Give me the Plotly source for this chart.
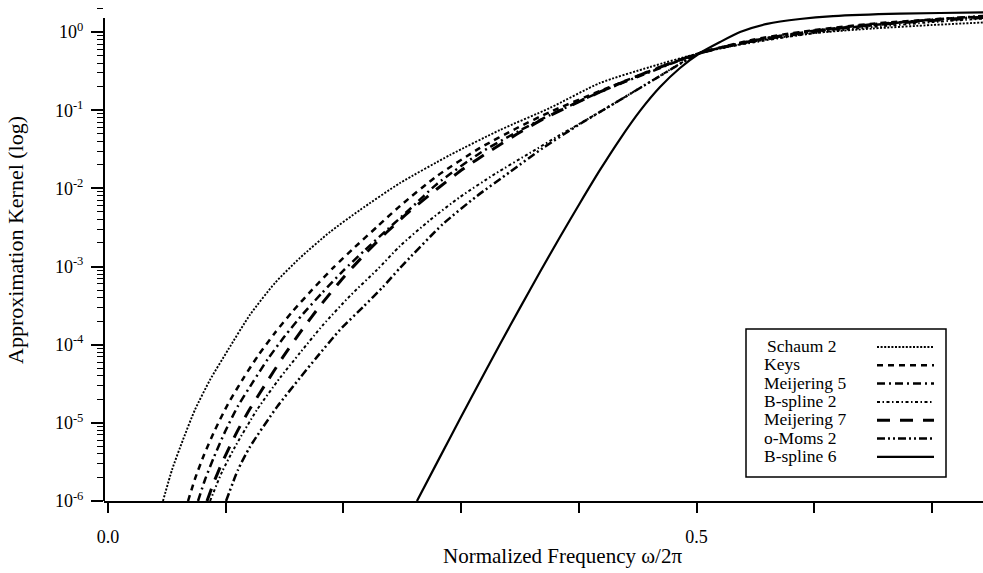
import plotly.graph_objects as go

# ---------------- data ----------------
schaum2_x = [0.0467, 0.0544, 0.0637, 0.0739, 0.0867, 0.1020, 0.1206, 0.1419, 0.1631, 0.1886, 0.2141,
             0.2481, 0.2906, 0.3330, 0.3755, 0.4180, 0.4605, 0.5030, 0.55, 0.60, 0.65, 0.70, 0.75]
schaum2_y = [1e-6, 2.51e-6, 6.07e-6, 1.47e-5, 3.55e-5, 8.59e-5, 2.41e-4, 6.17e-4, 1.29e-3, 2.77e-3, 5.29e-3,
             1.17e-2, 2.67e-2, 5.58e-2, 0.107, 0.223, 0.357, 0.539, 0.76, 0.97, 1.11, 1.23, 1.34]

keys_x = [0.0680, 0.0739, 0.0816, 0.0909, 0.1020, 0.1147, 0.1274, 0.1419, 0.1572, 0.1733, 0.1912, 0.2099,
          0.2294, 0.2481, 0.2795, 0.3161, 0.3475, 0.3755, 0.4180, 0.4605, 0.5030, 0.55, 0.60, 0.65, 0.70, 0.75]
keys_y = [1e-6, 1.92e-6, 3.9e-6, 8.13e-6, 1.75e-5, 3.66e-5, 7.2e-5, 1.42e-4, 2.71e-4, 5.02e-4, 9.6e-4, 1.78e-3,
          3.31e-3, 5.96e-3, 1.44e-2, 3.29e-2, 5.92e-2, 9.49e-2, 0.176, 0.317, 0.539, 0.81, 1.06, 1.28, 1.45, 1.60]

meij5_x = [0.0765, 0.0824, 0.0901, 0.0994, 0.1105, 0.1232, 0.1359, 0.1504, 0.1657, 0.1818, 0.1997, 0.2184,
           0.2379, 0.2566, 0.2795, 0.3161, 0.3475, 0.3755, 0.4180, 0.4605, 0.5030, 0.55, 0.60, 0.65, 0.70, 0.75]
meij5_y = [1e-6, 1.87e-6, 3.67e-6, 7.67e-6, 1.65e-5, 3.34e-5, 6.58e-5, 1.3e-4, 2.48e-4, 4.59e-4, 8.79e-4, 1.63e-3,
           3.03e-3, 5.45e-3, 1.14e-2, 2.84e-2, 5.26e-2, 8.68e-2, 0.171, 0.308, 0.539, 0.79, 1.04, 1.26, 1.43, 1.58]

bspl2_x = [0.0867, 0.0969, 0.1079, 0.1266, 0.1461, 0.1631, 0.1827, 0.2056, 0.2285, 0.2481, 0.2736, 0.2991,
           0.3288, 0.3585, 0.3840, 0.4180, 0.4605, 0.5030, 0.55, 0.60, 0.65, 0.70, 0.75]
bspl2_y = [1e-6, 2.36e-6, 4.93e-6, 1.47e-5, 3.76e-5, 7.85e-5, 1.79e-4, 4.21e-4, 9.05e-4, 1.83e-3, 3.94e-3, 7.76e-3,
           1.53e-2, 2.84e-2, 4.82e-2, 9.49e-2, 0.23, 0.539, 0.745, 0.97, 1.16, 1.34, 1.51]

meij7_x = [0.0841, 0.0901, 0.0969, 0.1096, 0.1206, 0.1334, 0.1487, 0.1648, 0.1801, 0.1997, 0.2184, 0.2379,
           0.2566, 0.2795, 0.3016, 0.3246, 0.3475, 0.3713, 0.4180, 0.4605, 0.5030, 0.55, 0.60, 0.65, 0.70, 0.75]
meij7_y = [1e-6, 1.76e-6, 3.08e-6, 7.67e-6, 1.51e-5, 3.06e-5, 6.98e-5, 1.55e-4, 3.13e-4, 7.15e-4, 1.45e-3, 2.85e-3,
           5.14e-3, 9.82e-3, 1.77e-2, 3.01e-2, 4.96e-2, 7.95e-2, 0.171, 0.317, 0.539, 0.78, 1.03, 1.23, 1.40, 1.55]

omoms2_x = [0.1003, 0.1104, 0.1206, 0.1436, 0.1631, 0.1776, 0.1971, 0.2167, 0.2336, 0.2481, 0.2846, 0.3135,
            0.3415, 0.3696, 0.4010, 0.4350, 0.4690, 0.5030, 0.55, 0.60, 0.65, 0.70, 0.75]
omoms2_y = [1e-6, 2.5e-6, 4.93e-6, 1.6e-5, 3.76e-5, 6.98e-5, 1.55e-4, 3.04e-4, 5.48e-4, 9.6e-4, 3.5e-3, 8.0e-3,
            1.62e-2, 3.29e-2, 6.67e-2, 0.135, 0.274, 0.539, 0.77, 1.01, 1.23, 1.44, 1.63]

bspl6_x = [0.2625, 0.2821, 0.2991, 0.3161, 0.3330, 0.3500, 0.3670, 0.3840, 0.4010, 0.4180, 0.4350, 0.4520,
           0.4690, 0.4860, 0.5030, 0.5200, 0.5370, 0.5599, 0.5879, 0.6160, 0.6729, 0.7434, 0.75]
bspl6_y = [1e-6, 3.67e-6, 1.125e-5, 3.4e-5, 1.01e-4, 2.96e-4, 8.5e-4, 2.39e-3, 6.5e-3, 1.72e-2, 4.28e-2, 9.8e-2,
           0.198, 0.347, 0.539, 0.745, 1.0, 1.27, 1.47, 1.60, 1.72, 1.78, 1.79]

series_names = ["Schaum 2", "Keys", "Meijering 5", "B-spline 2", "Meijering 7", "o-Moms 2", "B-spline 6"]
series_x = [schaum2_x, keys_x, meij5_x, bspl2_x, meij7_x, omoms2_x, bspl6_x]
series_y = [schaum2_y, keys_y, meij5_y, bspl2_y, meij7_y, omoms2_y, bspl6_y]

x_tickvals = [0.0, 0.1, 0.2, 0.3, 0.4, 0.5, 0.6, 0.7]
x_ticktext = ["0.0", "", "", "", "", "0.5", "", ""]
y_exponents = [-6, -5, -4, -3, -2, -1, 0]

# ---------------- styles ----------------
dashes = ["2px,1.6px", "6px,5px", "8px,4px,2px,4px", "3px,2.5px,1.5px,2.5px",
          "13px,10px", "8px,3px,2px,3px,2px,3px", "solid"]
widths = [1.9, 2.5, 2.5, 2.0, 3.0, 2.5, 2.2]

FONT = "Liberation Serif"
W, H = 983, 573
L, R, T, B = 104, 0, 0, 72
PW, PH = W - L - R, H - T - B


def px2paper_x(px):
    return (px - L) / PW


def px2paper_y(py):
    return (T + PH - py) / PH


fig = go.Figure()
for name, xs, ys, d, w in zip(series_names, series_x, series_y, dashes, widths):
    fig.add_trace(go.Scatter(x=xs, y=ys, mode="lines", name=name, showlegend=False,
                             line=dict(color="black", width=w, dash=d, shape="spline", smoothing=0.6)))

y_tickvals = [10.0 ** e for e in y_exponents]
y_ticktext = ["10<sup>%d</sup>" % e for e in y_exponents]
minor_vals = [k * 10.0 ** e for e in y_exponents for k in range(2, 10) if k * 10.0 ** e < 2.6]

shapes = []
annotations = []
# y axis line (starts a bit below the top of the figure)
shapes.append(dict(type="line", xref="paper", yref="paper", x0=0, x1=0, y0=0, y1=px2paper_y(18),
                   line=dict(color="black", width=2)))
# legend box
shapes.append(dict(type="rect", xref="paper", yref="paper",
                   x0=px2paper_x(746), x1=px2paper_x(946), y0=px2paper_y(477), y1=px2paper_y(329),
                   line=dict(color="black", width=1.5), fillcolor="white", layer="above"))
for i, (name, d, w) in enumerate(zip(series_names, dashes, widths)):
    py = 346 + 18.3 * i
    annotations.append(dict(text=name, xref="paper", yref="paper",
                            x=px2paper_x(765 if i == 0 else 762), y=px2paper_y(py),
                            xanchor="left", yanchor="middle", showarrow=False,
                            font=dict(family=FONT, size=17.5, color="black")))
    shapes.append(dict(type="line", xref="paper", yref="paper",
                       x0=px2paper_x(877), x1=px2paper_x(934), y0=px2paper_y(py + 1), y1=px2paper_y(py + 1),
                       line=dict(color="black", width=w, dash=d)))

annotations.append(dict(text="Normalized Frequency \u03c9/2\u03c0", xref="paper", yref="paper",
                        x=px2paper_x(562), y=px2paper_y(556), xanchor="center", yanchor="middle",
                        showarrow=False, font=dict(family=FONT, size=21, color="black")))
annotations.append(dict(text="Approximation Kernel (log)", xref="paper", yref="paper",
                        x=px2paper_x(15), y=px2paper_y(240), xanchor="center", yanchor="middle",
                        textangle=-90, showarrow=False, font=dict(family=FONT, size=22, color="black")))

fig.update_layout(
    width=W, height=H,
    margin=dict(l=L, r=R, t=T, b=B, pad=0),
    paper_bgcolor="white", plot_bgcolor="white",
    font=dict(family=FONT, color="black"),
    shapes=shapes, annotations=annotations,
    xaxis=dict(range=[-0.0034, 0.7434], tickmode="array", tickvals=x_tickvals, ticktext=x_ticktext,
               ticks="outside", ticklen=10, tickwidth=1.5, tickcolor="black",
               showline=True, linewidth=2, linecolor="black", showgrid=False, zeroline=False,
               tickfont=dict(family=FONT, size=18, color="black"), ticklabelstandoff=8),
    yaxis=dict(type="log", range=[-6, 0.41], tickmode="array", tickvals=y_tickvals, ticktext=y_ticktext,
               ticks="outside", ticklen=12, tickwidth=1.5, tickcolor="black",
               showline=False, showgrid=False, zeroline=False,
               tickfont=dict(family=FONT, size=18, color="black"), ticklabelstandoff=4,
               minor=dict(tickmode="array", tickvals=minor_vals, ticks="outside", ticklen=6,
                          tickwidth=1, tickcolor="black", showgrid=False)),
)

fig.write_html("out.html")
